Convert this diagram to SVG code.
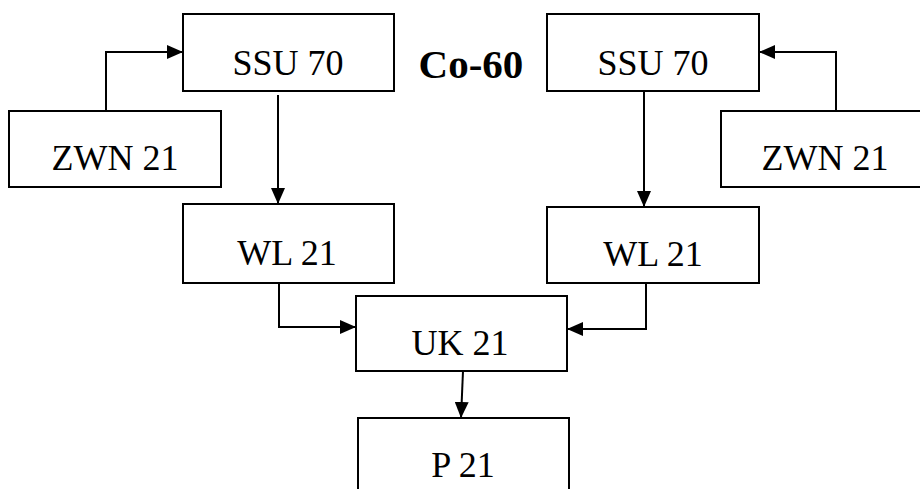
<svg xmlns="http://www.w3.org/2000/svg" width="920" height="489" viewBox="0 0 920 489">
<style>
.box{fill:#fff;stroke:#000;stroke-width:2}
.t{font-family:"Liberation Serif","Times New Roman",serif;font-size:36px;fill:#000;text-anchor:middle}
.b{font-family:"Liberation Serif","Times New Roman",serif;font-size:41px;font-weight:bold;fill:#000;text-anchor:middle}
.c{fill:none;stroke:#000;stroke-width:2}
</style>
<defs>
<marker id="ah" viewBox="0 0 16 14" refX="16" refY="7" markerWidth="16" markerHeight="14" markerUnits="userSpaceOnUse" orient="auto">
<path d="M0,0 L16,7 L0,14 Z" fill="#000"/>
</marker>
</defs>
<g id="connectors">
<polyline class="c" points="106,111 106,52 183,52" marker-end="url(#ah)"/>
<polyline class="c" points="836,111 836,52 759,52" marker-end="url(#ah)"/>
<line class="c" x1="278" y1="95" x2="278" y2="204" marker-end="url(#ah)"/>
<line class="c" x1="644" y1="91" x2="644" y2="207" marker-end="url(#ah)"/>
<polyline class="c" points="279,283 279,327 356,327" marker-end="url(#ah)"/>
<polyline class="c" points="646,283 646,329 567,329" marker-end="url(#ah)"/>
<line class="c" x1="463" y1="371" x2="461" y2="418" marker-end="url(#ah)"/>
</g>
<g id="ssu-left"><rect class="box" x="183" y="14" width="211" height="77"/><text class="t" x="288" y="75">SSU 70</text></g>
<g id="ssu-right"><rect class="box" x="547" y="14" width="212" height="77"/><text class="t" x="653" y="75">SSU 70</text></g>
<g id="co60"><text class="b" x="471" y="78">Co-60</text></g>
<g id="zwn-left"><rect class="box" x="9" y="111" width="212" height="76"/><text class="t" x="115" y="170">ZWN 21</text></g>
<g id="zwn-right"><rect class="box" x="721" y="111" width="210" height="76"/><text class="t" x="825" y="170">ZWN 21</text></g>
<g id="wl-left"><rect class="box" x="183" y="204" width="211" height="79"/><text class="t" x="287" y="265">WL 21</text></g>
<g id="wl-right"><rect class="box" x="547" y="207" width="212" height="76"/><text class="t" x="653" y="266">WL 21</text></g>
<g id="uk"><rect class="box" x="356" y="296" width="211" height="75"/><text class="t" x="460" y="355">UK 21</text></g>
<g id="p"><rect class="box" x="358" y="418" width="211" height="80"/><text class="t" x="463" y="477">P 21</text></g>
</svg>
